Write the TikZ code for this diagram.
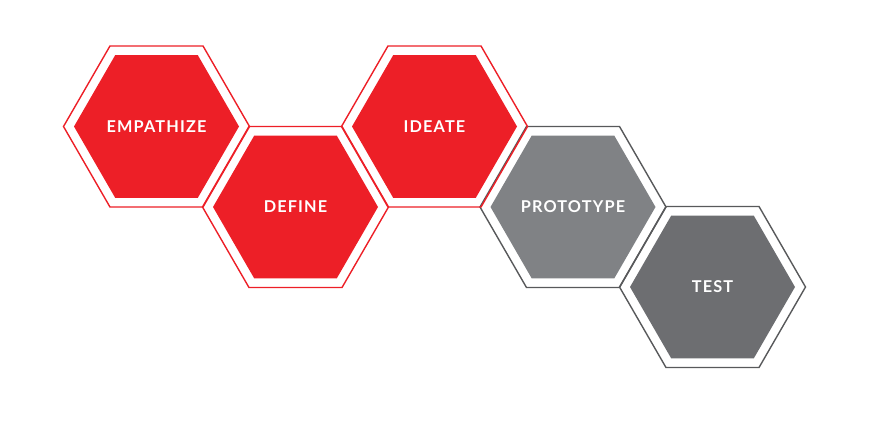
\documentclass[tikz,border=0pt]{standalone}
\usepackage{fontspec}
\setsansfont{Lato}[LetterSpace=7]
\usetikzlibrary{shapes.geometric}

\definecolor{hexred}{HTML}{ED1F27}
\definecolor{hexgray}{HTML}{808285}
\definecolor{hexdark}{HTML}{6D6E71}
\definecolor{rimgray}{HTML}{58595B}

\begin{document}
\begin{tikzpicture}[x=1pt,y=-1pt,
    rim/.style={regular polygon,regular polygon sides=6,minimum size=186pt,inner sep=0pt,line width=1.4pt},
    cell/.style={regular polygon,regular polygon sides=6,minimum size=165pt,inner sep=0pt,
      label={[text=white,font=\sffamily\bfseries\fontsize{16.3}{18}\selectfont]center:#1}}]
      % fix page to the reference size
      \useasboundingbox (0,0) rectangle (870,425);

      % red cells
      \node[cell=EMPATHIZE,fill=hexred] (empathize) at (156.5,126.5) {};
      \node[cell=DEFINE,fill=hexred] (define) at (295.5,207) {};
      \node[cell=IDEATE,fill=hexred] (ideate) at (434.5,126.5) {};

      % gray cells
      \node[cell=PROTOTYPE,fill=hexgray] (prototype) at (573,207) {};
      \node[cell=TEST,fill=hexdark] (test) at (712.5,287) {};

      % outlines round each cell
      \node[rim,draw=rimgray] (prototyperim) at (prototype) {};
      \node[rim,draw=rimgray] (testrim) at (test) {};
      \node[rim,draw=hexred] (empathizerim) at (empathize) {};
      \node[rim,draw=hexred] (definerim) at (define) {};
      \node[rim,draw=hexred] (ideaterim) at (ideate) {};
    \end{tikzpicture}
\end{document}
